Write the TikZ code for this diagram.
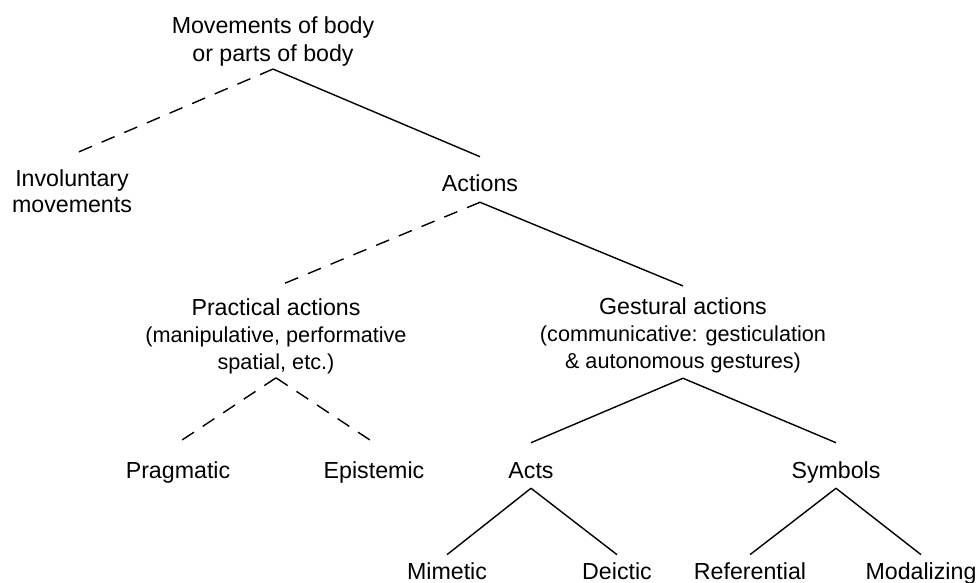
\documentclass[tikz,border=0pt]{standalone}
\usepackage{fontspec}
\setmainfont{Liberation Sans}

\newcommand{\subfont}{\fontsize{15.4pt}{18.9pt}\selectfont}

\tikzset{
  term/.style={font=\fontsize{16.5pt}{18.9pt}\selectfont, inner sep=1.4pt,
               anchor=base, text height=23.5pt, text depth=5.7pt},
  low term/.style={term, text height=15.7pt},
  multi term/.style={font=\fontsize{16.5pt}{18.9pt}\selectfont, inner sep=1.4pt,
                     anchor=base, align=center},
  branch/.style={line width=1pt},
  weak branch/.style={line width=1pt, dash pattern=on 10pt off 7.5pt},
}

\begin{document}
\begin{tikzpicture}[x=0.025cm, y=-0.025cm]
    \useasboundingbox (0, 0) rectangle (979, 583);

    % top of the tree
    \node [multi term, font=\fontsize{16.5pt}{20.6pt}\selectfont] (root) at (273, 62)
          {Movements of body\\or parts of body};

    % second level
    \node [multi term, font=\fontsize{16.5pt}{18.5pt}\selectfont] (inv) at (72, 213)
          {Involuntary\\movements};
    \node [term] (act) at (480, 192) {Actions};

    % Edges
    \draw [weak branch] (root.south) -- ([yshift=9.3pt]inv.north);
    \draw [branch] (root.south) -- (act.north);

    % kinds of actions
    \node [multi term] (prac) at (276, 369)
          {Practical actions\\{\subfont (manipulative, performative}\\{\subfont spatial, etc.)}};
    \node [multi term] (gest) at (683, 368)
          {Gestural actions\\{\subfont (communicative: gesticulation}\\{\subfont \& autonomous gestures)}};

    % Edges
    \draw [weak branch] (act.south) -- ([yshift=7pt]prac.north);
    \draw [branch] (act.south) -- ([yshift=7pt]gest.north);

    % third level
    \node [term] (prag) at (178, 478) {Pragmatic};
    \node [term] (epi) at (374, 478) {Epistemic};
    \node [term] (acts) at (531, 478) {Acts};
    \node [term] (sym) at (836, 478) {Symbols};

    % Edges
    \draw [weak branch] ([yshift=-1.5pt]prac.south) -- (prag.north);
    \draw [weak branch] ([yshift=-1.5pt]prac.south) -- (epi.north);
    \draw [branch] ([yshift=-2.5pt]gest.south) -- (acts.north);
    \draw [branch] ([yshift=-2.5pt]gest.south) -- (sym.north);

    % bottom row
    \node [low term] (mim) at (447, 579) {Mimetic};
    \node [low term] (dei) at (617, 579) {Deictic};
    \node [low term] (ref) at (750, 579) {Referential};
    \node [low term] (mod) at (921, 579) {Modalizing};

    % Edges
    \draw [branch] (acts.south) -- (mim.north);
    \draw [branch] (acts.south) -- (dei.north);
    \draw [branch] (sym.south) -- (ref.north);
    \draw [branch] (sym.south) -- (mod.north);
\end{tikzpicture}
\end{document}
